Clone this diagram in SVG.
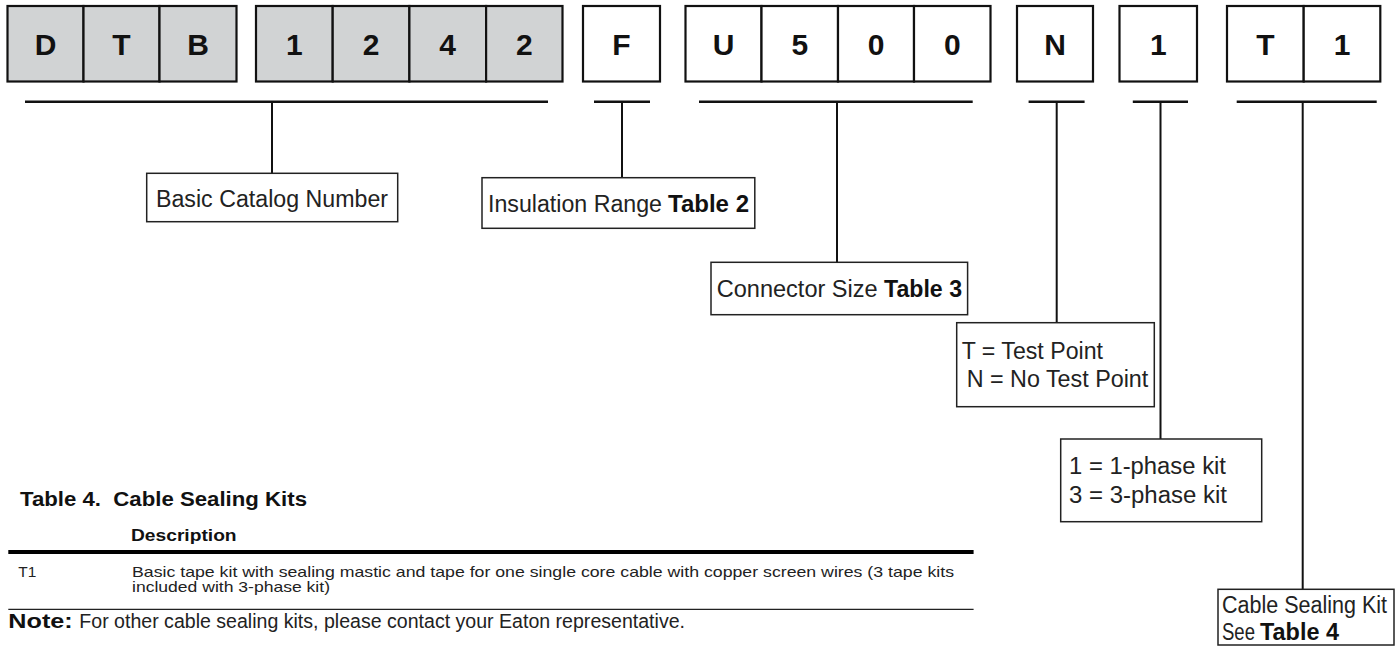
<svg xmlns="http://www.w3.org/2000/svg" width="1399" height="646" viewBox="0 0 1399 646">
<style>
.cell{stroke:#111;stroke-width:2.2;}
.g{fill:#d1d3d4;}
.w{fill:#fff;}
.ch{font-family:"Liberation Sans",Arial,sans-serif;font-weight:bold;font-size:30px;fill:#111;text-anchor:middle;}
.br{stroke:#111;stroke-width:2.6;fill:none;}
.vl{stroke:#111;stroke-width:2;fill:none;}
.lb{fill:#fff;stroke:#222;stroke-width:1.5;}
.t{font-family:"Liberation Sans",Arial,sans-serif;font-size:23.5px;fill:#222;}
.tb{font-family:"Liberation Sans",Arial,sans-serif;font-size:23.5px;font-weight:bold;fill:#111;}
.s{font-family:"Liberation Sans",Arial,sans-serif;font-size:15px;fill:#222;}
</style>
<rect width="1399" height="646" fill="#fff"/>

<g id="code-DTB">
<rect class="cell g" x="7.5" y="6" width="76" height="75.5"/>
<rect class="cell g" x="83.5" y="6" width="76" height="75.5"/>
<rect class="cell g" x="159.5" y="6" width="77" height="75.5"/>
<text class="ch" x="45.5" y="55">D</text>
<text class="ch" x="121.5" y="55">T</text>
<text class="ch" x="198" y="55">B</text>
</g>
<g id="code-1242">
<rect class="cell g" x="256" y="6" width="76.7" height="75.5"/>
<rect class="cell g" x="332.7" y="6" width="76.7" height="75.5"/>
<rect class="cell g" x="409.4" y="6" width="76.7" height="75.5"/>
<rect class="cell g" x="486.1" y="6" width="76.4" height="75.5"/>
<text class="ch" x="294.3" y="55">1</text>
<text class="ch" x="371" y="55">2</text>
<text class="ch" x="447.7" y="55">4</text>
<text class="ch" x="524.3" y="55">2</text>
</g>
<g id="code-F">
<rect class="cell w" x="583" y="6" width="77" height="75.5"/>
<text class="ch" x="621.5" y="55">F</text>
</g>
<g id="code-U500">
<rect class="cell w" x="685.5" y="6" width="76" height="75.5"/>
<rect class="cell w" x="761.5" y="6" width="76.5" height="75.5"/>
<rect class="cell w" x="838" y="6" width="76" height="75.5"/>
<rect class="cell w" x="914" y="6" width="76.5" height="75.5"/>
<text class="ch" x="723.5" y="55">U</text>
<text class="ch" x="799.8" y="55">5</text>
<text class="ch" x="876" y="55">0</text>
<text class="ch" x="952.3" y="55">0</text>
</g>
<g id="code-N">
<rect class="cell w" x="1017" y="6" width="76" height="75.5"/>
<text class="ch" x="1055" y="55">N</text>
</g>
<g id="code-1">
<rect class="cell w" x="1119.5" y="6" width="77.5" height="75.5"/>
<text class="ch" x="1158.3" y="55">1</text>
</g>
<g id="code-T1">
<rect class="cell w" x="1227" y="6" width="76.7" height="75.5"/>
<rect class="cell w" x="1303.7" y="6" width="76.6" height="75.5"/>
<text class="ch" x="1265.3" y="55">T</text>
<text class="ch" x="1342" y="55">1</text>
</g>

<g id="connectors">
<line class="br" x1="25" y1="101.7" x2="548" y2="101.7"/>
<line class="vl" x1="272" y1="101.7" x2="272" y2="173.3"/>
<line class="br" x1="594" y1="101.7" x2="650" y2="101.7"/>
<line class="vl" x1="622" y1="101.7" x2="622" y2="177.7"/>
<line class="br" x1="699" y1="101.7" x2="972.7" y2="101.7"/>
<line class="vl" x1="837" y1="101.7" x2="837" y2="262.3"/>
<line class="br" x1="1028.6" y1="101.7" x2="1084.6" y2="101.7"/>
<line class="vl" x1="1056.7" y1="101.7" x2="1056.7" y2="322.7"/>
<line class="br" x1="1132.8" y1="101.7" x2="1188" y2="101.7"/>
<line class="vl" x1="1160.5" y1="101.7" x2="1160.5" y2="439"/>
<line class="br" x1="1236.7" y1="101.7" x2="1376.7" y2="101.7"/>
<line class="vl" x1="1302.7" y1="101.7" x2="1302.7" y2="589.3"/>
</g>

<g id="label-basic">
<rect class="lb" x="146.7" y="173.3" width="251" height="48.4"/>
<text class="t" x="156" y="206.7" textLength="232" lengthAdjust="spacingAndGlyphs">Basic Catalog Number</text>
</g>
<g id="label-insulation">
<rect class="lb" x="482" y="177.7" width="272.8" height="50.6"/>
<text class="t" x="488" y="211.7" textLength="174" lengthAdjust="spacingAndGlyphs">Insulation Range</text>
<text class="tb" x="668" y="211.7" textLength="81" lengthAdjust="spacingAndGlyphs">Table 2</text>
</g>
<g id="label-connector">
<rect class="lb" x="711" y="262.3" width="256.6" height="52.4"/>
<text class="t" x="716.7" y="296.7" textLength="161" lengthAdjust="spacingAndGlyphs">Connector Size</text>
<text class="tb" x="884" y="296.7" textLength="78" lengthAdjust="spacingAndGlyphs">Table 3</text>
</g>
<g id="label-testpoint">
<rect class="lb" x="956.7" y="322.7" width="197.6" height="84"/>
<text class="t" x="961.7" y="359.3" textLength="141.3" lengthAdjust="spacingAndGlyphs">T = Test Point</text>
<text class="t" x="966.7" y="387.3" textLength="181.6" lengthAdjust="spacingAndGlyphs">N = No Test Point</text>
</g>
<g id="label-phase">
<rect class="lb" x="1060.7" y="439" width="201" height="82.7"/>
<text class="t" x="1069" y="474.3" textLength="157" lengthAdjust="spacingAndGlyphs">1 = 1-phase kit</text>
<text class="t" x="1069" y="502.7" textLength="158" lengthAdjust="spacingAndGlyphs">3 = 3-phase kit</text>
</g>
<g id="label-sealing">
<rect class="lb" x="1218" y="589.3" width="176" height="55.7"/>
<text class="t" x="1222" y="613.3" font-size="22.5" textLength="165" lengthAdjust="spacingAndGlyphs">Cable Sealing Kit</text>
<text class="t" x="1222" y="639.5" font-size="22.5" textLength="33" lengthAdjust="spacingAndGlyphs">See</text>
<text class="tb" x="1260" y="639.5" font-size="22.5" textLength="79" lengthAdjust="spacingAndGlyphs">Table 4</text>
</g>

<g id="table4">
<text x="20" y="506" font-family="Liberation Sans, Arial, sans-serif" font-weight="bold" font-size="19.5" fill="#111" textLength="287" lengthAdjust="spacingAndGlyphs" xml:space="preserve">Table 4.  Cable Sealing Kits</text>
<text x="131" y="541" font-family="Liberation Sans, Arial, sans-serif" font-weight="bold" font-size="16.5" fill="#111" textLength="105.6" lengthAdjust="spacingAndGlyphs">Description</text>
<line x1="8.3" y1="552" x2="973.6" y2="552" stroke="#000" stroke-width="4.2"/>
<text class="s" x="18.3" y="577" textLength="18" lengthAdjust="spacingAndGlyphs">T1</text>
<text class="s" x="132" y="577" textLength="822" lengthAdjust="spacingAndGlyphs">Basic tape kit with sealing mastic and tape for one single core cable with copper screen wires (3 tape kits</text>
<text class="s" x="132" y="591.7" textLength="198" lengthAdjust="spacingAndGlyphs">included with 3-phase kit)</text>
<line x1="8.3" y1="609.3" x2="973.6" y2="609.3" stroke="#222" stroke-width="1.3"/>
<text x="8.3" y="628.3" font-family="Liberation Sans, Arial, sans-serif" font-weight="bold" font-size="19.5" fill="#111" textLength="64.4" lengthAdjust="spacingAndGlyphs">Note:</text>
<text x="79.3" y="628.3" font-family="Liberation Sans, Arial, sans-serif" font-size="19.5" fill="#222" textLength="605.7" lengthAdjust="spacingAndGlyphs">For other cable sealing kits, please contact your Eaton representative.</text>
</g>
</svg>
